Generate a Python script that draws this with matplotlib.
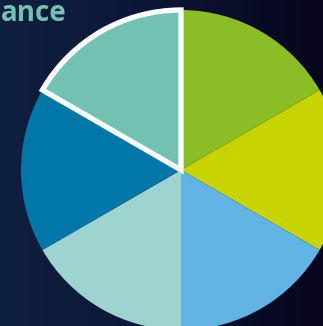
import matplotlib
matplotlib.use("Agg")
import matplotlib.pyplot as plt
import numpy as np
from matplotlib.colors import LinearSegmentedColormap

categories = ["A", "B", "C", "D", "E", "F"]
shares = [16.7, 16.7, 16.7, 16.7, 16.7, 16.7]
colors = ["#8bbd24", "#c8d400", "#62b4e4", "#9dd4cf", "#0077a8", "#72c2b4"]
highlight = "F"
# only the tail of the title is visible in the crop
title = "ance"

W, H = 323, 326


def main():
    fig = plt.figure(figsize=(W / 100, H / 100), dpi=100)

    # dark backdrop, navy on the left fading to near-black on the right
    bg = fig.add_axes([0, 0, 1, 1])
    cmap = LinearSegmentedColormap.from_list("bg", ["#10203f", "#0b1535", "#07051b"])
    grad = np.linspace(0, 1, 256).reshape(1, -1)
    bg.imshow(grad, aspect="auto", cmap=cmap, extent=[0, 1, 0, 1])
    bg.axis("off")

    cx, cy, r = 181, 170, 160
    ax = fig.add_axes([(cx - r) / W, (H - cy - r) / H, 2 * r / W, 2 * r / H])
    ax.set_facecolor("none")
    wedges, _ = ax.pie(shares, colors=colors, startangle=90, counterclock=False,
                       radius=1, wedgeprops=dict(linewidth=0))
    for w, cat in zip(wedges, categories):
        if cat == highlight:
            w.set_edgecolor("white")
            w.set_linewidth(3.8)
            w.set_joinstyle("miter")
            w.set_zorder(5)
    ax.set_xlim(-1, 1)
    ax.set_ylim(-1, 1)
    ax.set_aspect("equal")
    ax.axis("off")

    fig.text(1 / W, 1 - 21 / H, title, ha="left", va="baseline", color="#72c2b4",
             fontsize=20, fontweight="bold", family="Open Sans")

    fig.savefig("out.png", dpi=100, facecolor="#0b1535")
    plt.close(fig)


if __name__ == "__main__":
    main()
